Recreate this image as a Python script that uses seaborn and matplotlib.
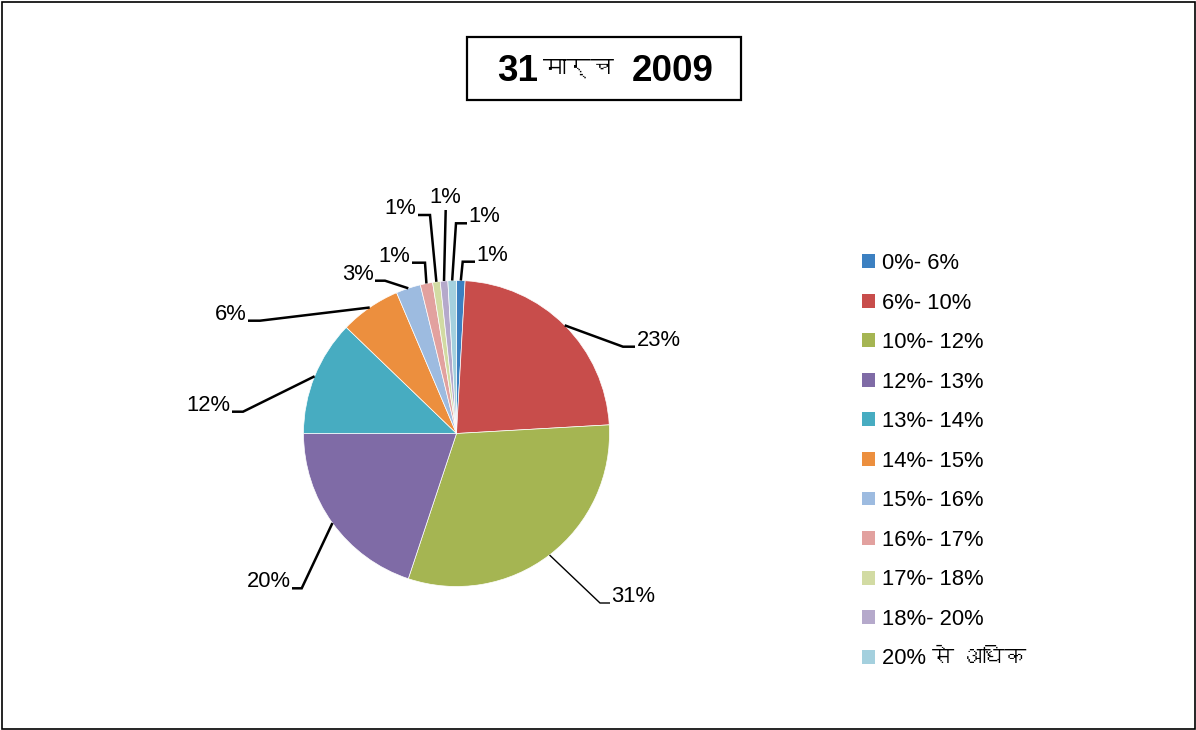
import numpy as np
import matplotlib
matplotlib.use("Agg")
import matplotlib.pyplot as plt
import seaborn as sns
from matplotlib.patches import Patch, Rectangle
from matplotlib import font_manager as fm
from matplotlib.ft2font import FT2Font

# ---------------- data ----------------
categories = ['0%- 6%', '6%- 10%', '10%- 12%', '12%- 13%', '13%- 14%', '14%- 15%',
              '15%- 16%', '16%- 17%', '17%- 18%', '18%- 20%', '20% से अधिक']
shares = [0.9, 23.2, 31.0, 19.9, 12.2, 6.4, 2.6, 1.3, 0.8, 0.8, 0.9]
value_labels = ['1%', '23%', '31%', '20%', '12%', '6%', '3%', '1%', '1%', '1%', '1%']
title_parts = ['31', 'मार्च', '2009']

colors = ['#3C80C1', '#C84D4B', '#A5B552', '#7F6BA6', '#47ACC1', '#EC8F3E',
          '#9DBBE0', '#E2A19F', '#D2DBA3', '#B5A9CB', '#A4D0DE']

# ---------------- layout (image pixel coords) ----------------
W, H = 1196, 730
center_px = (456.5, 433.5)
radius_px = 153
# elbow point, end point of horizontal leader, text side
leader_layout = [
    ((462.7, 261.7), (475, 261.7), 'right'),
    ((623, 346.7), (635, 346.7), 'right'),
    ((600, 603), (610, 603), 'right'),
    ((301.7, 588.3), (292, 588.3), 'left'),
    ((243, 411.7), (232, 411.7), 'left'),
    ((260, 320.7), (248, 320.7), 'left'),
    ((385, 280.7), (375, 280.7), 'left'),
    ((425, 262.7), (412, 262.7), 'left'),
    ((430, 215), (418, 215), 'left'),
    ((445.7, 210), (445.7, 210), 'top'),
    ((456, 223.3), (467, 223.3), 'right'),
]

sns.set_theme(style="white")

deva = None
for f in fm.fontManager.ttflist:
    try:
        ft = FT2Font(f.fname)
        if 0x092E in ft.get_charmap():
            deva = f.name
            break
    except Exception:
        pass
fams = ['Liberation Sans'] + ([deva] if deva else []) + ['DejaVu Sans']
plt.rcParams['font.family'] = fams
plt.rcParams['text.color'] = 'black'

fig = plt.figure(figsize=(W / 100, H / 100), dpi=100)
ax = fig.add_axes([0, 0, 1, 1])
ax.set_xlim(0, W)
ax.set_ylim(0, H)
ax.axis('off')

def Y(y):
    return H - y

wedges, _ = ax.pie(shares, colors=colors, startangle=90, counterclock=False,
                   center=(center_px[0], Y(center_px[1])), radius=radius_px,
                   wedgeprops=dict(linewidth=0.5, edgecolor='white'), frame=False)
ax.set_xlim(0, W)
ax.set_ylim(0, H)
ax.set_aspect('auto')

fs_lab = 15.8
for w, lab, (elbow, end, side), i in zip(wedges, value_labels, leader_layout, range(len(shares))):
    mid = np.deg2rad((w.theta1 + w.theta2) / 2)
    ax0 = center_px[0] + radius_px * np.cos(mid)
    ay0 = Y(center_px[1]) + radius_px * np.sin(mid)
    lw = 1.0 if i == 2 else 1.8
    ax.plot([ax0, elbow[0], end[0]], [ay0, Y(elbow[1]), Y(end[1])], color='black',
            lw=lw, solid_capstyle='butt', solid_joinstyle='miter')
    if side == 'right':
        ax.text(end[0] + 1.5, Y(end[1] - 6.5), lab, ha='left', va='center', fontsize=fs_lab)
    elif side == 'left':
        ax.text(end[0] - 1.5, Y(end[1] - 6.5), lab, ha='right', va='center', fontsize=fs_lab)
    else:
        ax.text(end[0], Y(end[1] - 12.5), lab, ha='center', va='center', fontsize=fs_lab)

# title box
ax.add_patch(Rectangle((467, Y(100)), 274, 63, fill=False, edgecolor='black', lw=1.6))
ax.text(497, Y(71.5), title_parts[0], ha='left', va='center', fontsize=26.5, fontweight='bold')
ax.text(578, Y(68), title_parts[1], ha='center', va='center', fontsize=17, fontweight='bold')
ax.text(714, Y(71.5), title_parts[2], ha='right', va='center', fontsize=26.5, fontweight='bold')

# figure border
ax.add_patch(Rectangle((1.5, 1.5), W - 3, H - 3, fill=False, edgecolor='black', lw=1.2))

handles = [Patch(facecolor=c, edgecolor='none') for c in colors]
leg = ax.legend(handles, categories, loc='upper left', bbox_to_anchor=(862, Y(253)),
                bbox_transform=ax.transData, frameon=False, fontsize=fs_lab,
                handlelength=0.6, handleheight=0.6, handletextpad=0.3,
                labelspacing=0.845, borderpad=0, borderaxespad=0)

fig.savefig('out.png', dpi=100, facecolor='white')
